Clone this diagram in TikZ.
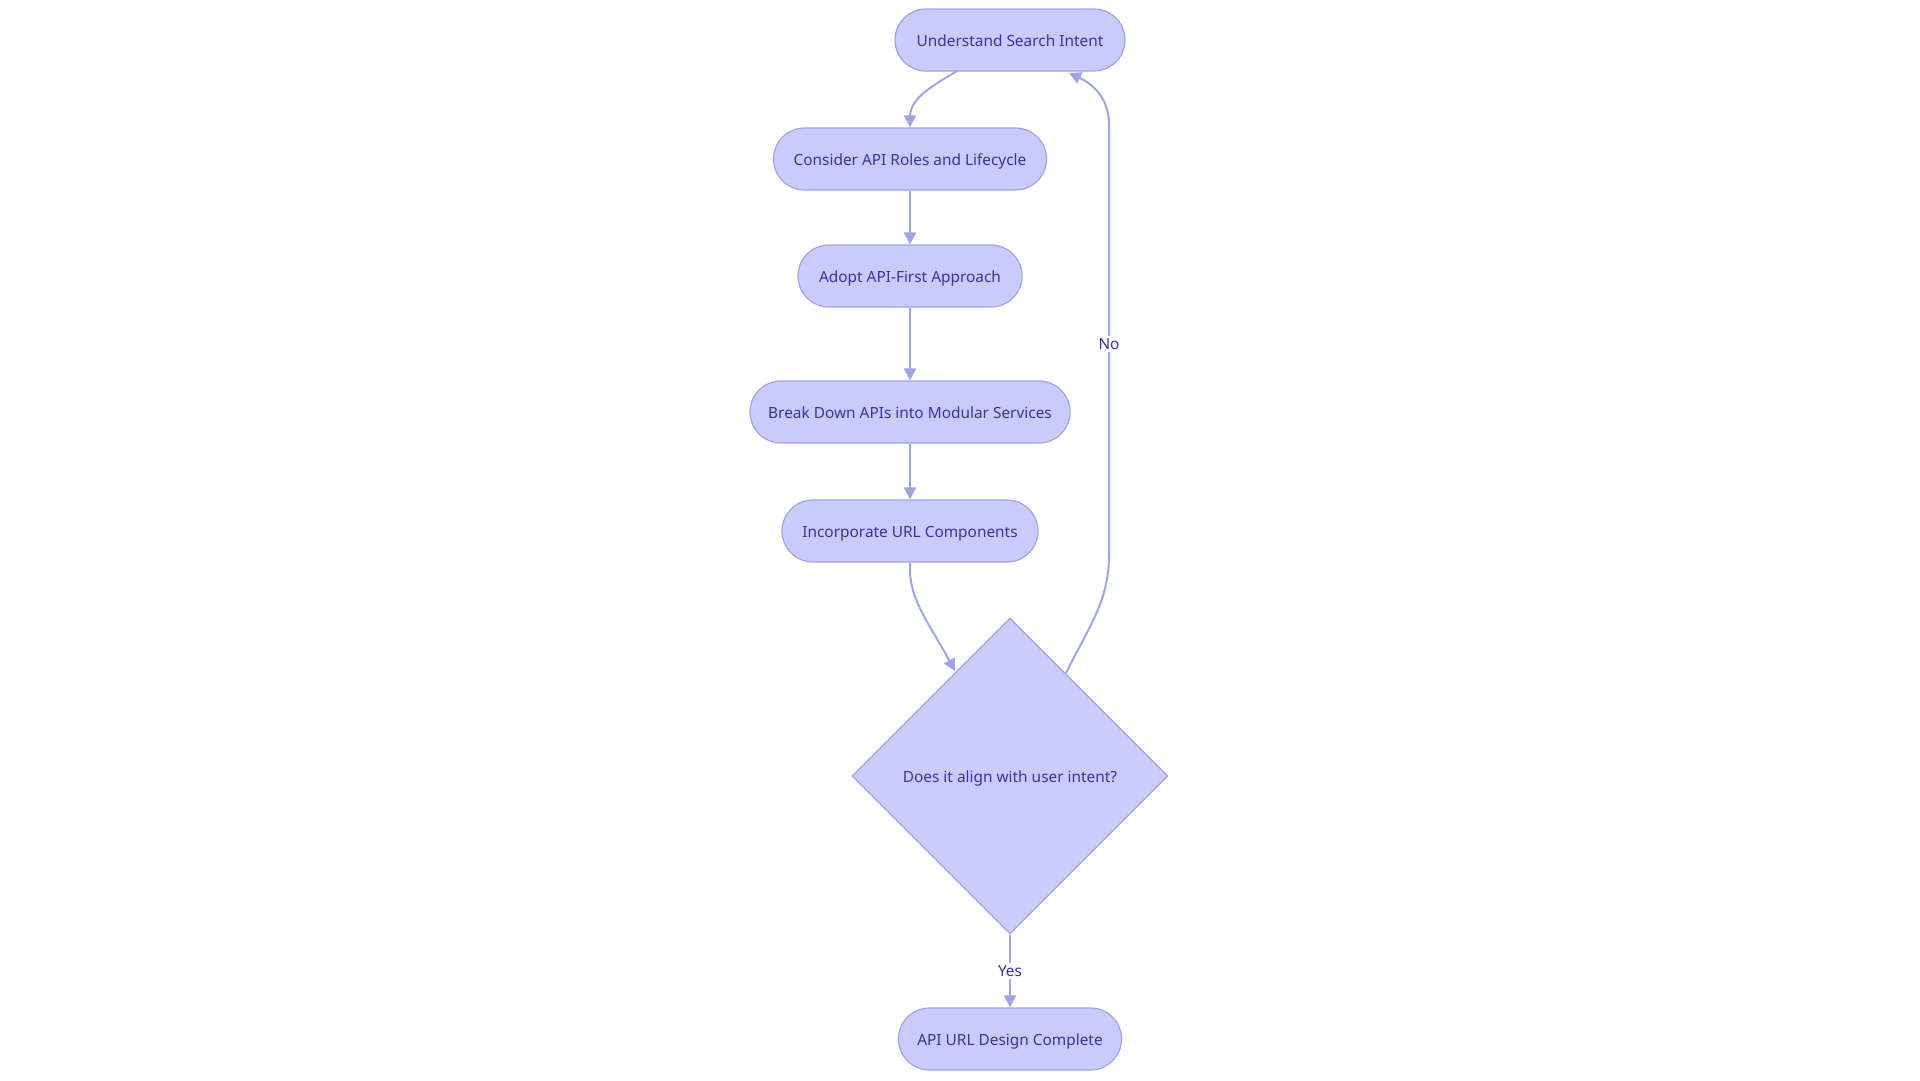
\documentclass[tikz,border=0pt]{standalone}
\usepackage{fontspec}
\setmainfont{Noto Sans}
\usetikzlibrary{arrows.meta,shapes.geometric}
\definecolor{nfill}{RGB}{202,203,253}
\definecolor{nline}{RGB}{160,163,232}
\definecolor{ntext}{RGB}{52,52,164}
\begin{document}
\begin{tikzpicture}[x=1pt,y=-1pt,
  pill/.style={draw=nline,fill=nfill,line width=1.2pt,rounded corners=31pt,minimum height=62pt,inner sep=0pt,text=ntext,font=\fontsize{15.4}{18}\selectfont,text height=13pt,text depth=0pt},
  dia/.style={draw=nline,fill=nfill,line width=1.2pt,diamond,minimum width=316pt,minimum height=316pt,inner sep=0pt,text=ntext,font=\fontsize{15.4}{18}\selectfont,text height=13pt,text depth=0pt},
  conn/.style={draw=nline,line width=2pt,-{Triangle[length=12pt,width=12pt]}},
  lab/.style={fill=white,text=ntext,font=\fontsize{15.4}{18}\selectfont,inner sep=2pt}]
\useasboundingbox (0,0) rectangle (1920,1080);
\node[pill,minimum width=230pt] (n1) at (1010,40) {Understand Search Intent};
\node[pill,minimum width=273pt] (n2) at (910,159) {Consider API Roles and Lifecycle};
\node[pill,minimum width=224pt] (n3) at (910,276) {Adopt API-First Approach};
\node[pill,minimum width=320pt] (n4) at (910,412) {Break Down APIs into Modular Services};
\node[pill,minimum width=256pt] (n5) at (910,531) {Incorporate URL Components};
\node[dia] (d) at (1010,776) {Does it align with user intent?};
\node[pill,minimum width=223pt] (n6) at (1010,1039) {API URL Design Complete};
\coordinate (a1) at (957,71);
\draw[conn] (a1) .. controls (925,90) and (910,100) .. (910,118) -- (n2.north);
\draw[conn] (n2) -- (n3);
\draw[conn] (n3) -- (n4);
\draw[conn] (n4) -- (n5);
\coordinate (b1) at (955,671);
\draw[conn] (n5.south) -- (910,570) .. controls (910,600) and (930,625) .. (b1);
\coordinate (c1) at (1066,673);
\coordinate (c2) at (1069,73);
\draw[conn] (c1) .. controls (1090,625) and (1109,600) .. (1109,555) -- (1109,125) .. controls (1109,100) and (1095,85) .. (c2);
\node[lab] (no) at (1109,344) {No};
\draw[conn] (d.south) -- (n6.north);
\node[lab] (yes) at (1010,971) {Yes};
\end{tikzpicture}
\end{document}
